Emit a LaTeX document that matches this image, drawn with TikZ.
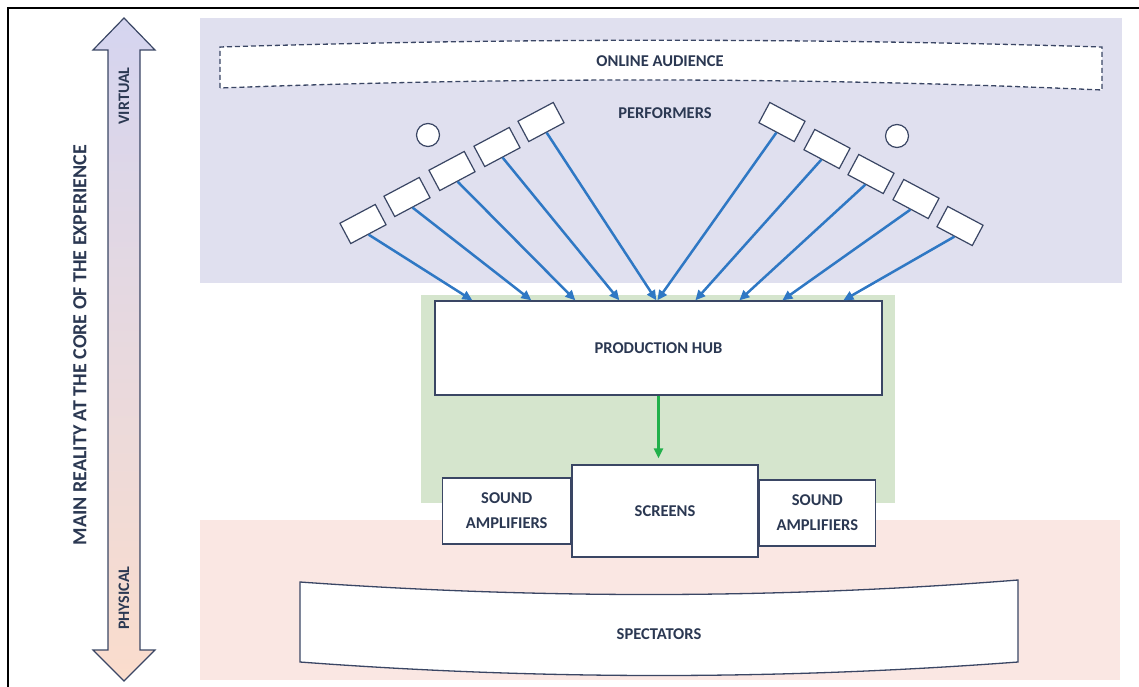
\documentclass[tikz,border=0pt]{standalone}
\usepackage{fontspec}
\setmainfont{Carlito}
\usepackage{xcolor}
\usetikzlibrary{arrows.meta, positioning}

\definecolor{virtualbg}{HTML}{E0E0EF}
\definecolor{hubbg}{HTML}{D5E5CD}
\definecolor{physicalbg}{HTML}{FAE7E3}
\definecolor{ink}{HTML}{2B3852}
\definecolor{edge}{HTML}{3A4664}
\definecolor{feedblue}{HTML}{2F78C4}
\definecolor{feedgreen}{HTML}{22B04B}

\begin{document}
\begin{tikzpicture}[
  x=1pt, y=-1pt,
  txt/.style={font=\fontsize{16.5}{25}\selectfont\bfseries, text=ink, align=center},
  box/.style={rectangle, draw=edge, fill=white, line width=1.3pt, inner sep=0pt,
              font=\fontsize{16.5}{25}\selectfont\bfseries, text=ink, align=center},
  perf/.style={rectangle, draw=edge, fill=white, line width=1.2pt,
               minimum width=40pt, minimum height=23pt, inner sep=0pt},
  head/.style={circle, draw=edge, fill=white, line width=1.2pt,
               minimum size=23pt, inner sep=0pt},
  feed/.style={-{Triangle[length=10pt, width=9pt]}, line width=2.5pt, draw=feedblue},
  output/.style={-{Triangle[length=10pt, width=9pt]}, line width=2.5pt, draw=feedgreen}
]
\useasboundingbox (0,0) rectangle (1139,687);

% frame
\draw[line width=2pt] (8,687) -- (8,8) -- (1139,8);

% zones
\fill[virtualbg] (200,18) rectangle (1122,283);
\fill[hubbg] (421,295) rectangle (895,503);
\fill[physicalbg] (200,520) rectangle (1120,680);

% reality axis
\shade[top color=virtualbg!95!blue, bottom color=physicalbg!90!orange, draw=edge, line width=1.2pt]
  (108,50) -- (93,50) -- (124,18) -- (155,50) -- (140,50) -- (140,650)
  -- (155,650) -- (124,681) -- (93,650) -- (108,650) -- cycle;
\node[txt, rotate=90, font=\fontsize{16}{18}\selectfont\bfseries] (virt) at (124,96) {VIRTUAL};
\node[txt, rotate=90, font=\fontsize{16}{18}\selectfont\bfseries] (phys) at (124,598) {PHYSICAL};
\node[txt, rotate=90, font=\fontsize{20}{22}\selectfont\bfseries] (core) at (80,345)
  {MAIN REALITY AT THE CORE OF THE EXPERIENCE};

% online audience
\draw[edge, line width=1.3pt, dash pattern=on 5pt off 3pt, fill=white]
  (220,88) -- (220,47) .. controls (515,38) and (807,38) .. (1102,47)
  -- (1102,90) .. controls (807,77) and (515,77) .. cycle;
\node[txt] (online) at (660,61) {ONLINE AUDIENCE};
\node[txt] (perfs) at (665,113) {PERFORMERS};

% performers
\node[head] (h1) at (428,135) {};
\node[head] (h2) at (897,136) {};
\node[perf, rotate=28] (p1) at (363,224) {};
\node[perf, rotate=28] (p2) at (407,197) {};
\node[perf, rotate=28] (p3) at (452,171) {};
\node[perf, rotate=28] (p4) at (497,147) {};
\node[perf, rotate=28] (p5) at (541,122) {};
\node[perf, rotate=-28] (p6) at (782,122) {};
\node[perf, rotate=-28] (p7) at (827,149) {};
\node[perf, rotate=-28] (p8) at (871,174) {};
\node[perf, rotate=-28] (p9) at (916,199) {};
\node[perf, rotate=-28] (p10) at (960,226) {};

% production chain
\node[box, minimum width=447pt, minimum height=94pt] (hub) at (658.5,348) {PRODUCTION HUB};
\node[box, minimum width=186pt, minimum height=92pt] (screens) at (665,511) {SCREENS};
\node[box, minimum width=128pt, minimum height=66pt, left=0pt of screens] (ampl) {SOUND\\AMPLIFIERS};
\node[box, minimum width=116pt, minimum height=66pt, right=0pt of screens, yshift=-2pt] (ampr) {SOUND\\AMPLIFIERS};

\draw[feed] (p1.south) -- ([xshift=38pt]hub.north west);
\draw[feed] (p2.south) -- ([xshift=97pt]hub.north west);
\draw[feed] (p3.south) -- ([xshift=141pt]hub.north west);
\draw[feed] (p4.south) -- ([xshift=185pt]hub.north west);
\draw[feed] (p5.south) -- ([xshift=222pt]hub.north west);
\draw[feed] (p6.south) -- ([xshift=223pt]hub.north west);
\draw[feed] (p7.south) -- ([xshift=261pt]hub.north west);
\draw[feed] (p8.south) -- ([xshift=305pt]hub.north west);
\draw[feed] (p9.south) -- ([xshift=348pt]hub.north west);
\draw[feed] (p10.south) -- ([xshift=409pt]hub.north west);

\draw[output, shorten >=6pt] (hub.south) -- (hub.south |- screens.north);

% spectators
\draw[edge, line width=1.3pt, fill=white]
  (300,662) -- (300,582) .. controls (540,599) and (778,599) .. (1018,580)
  -- (1018,662) .. controls (778,680) and (540,680) .. cycle;
\node[txt] (spect) at (659,634) {SPECTATORS};

\end{tikzpicture}
\end{document}
